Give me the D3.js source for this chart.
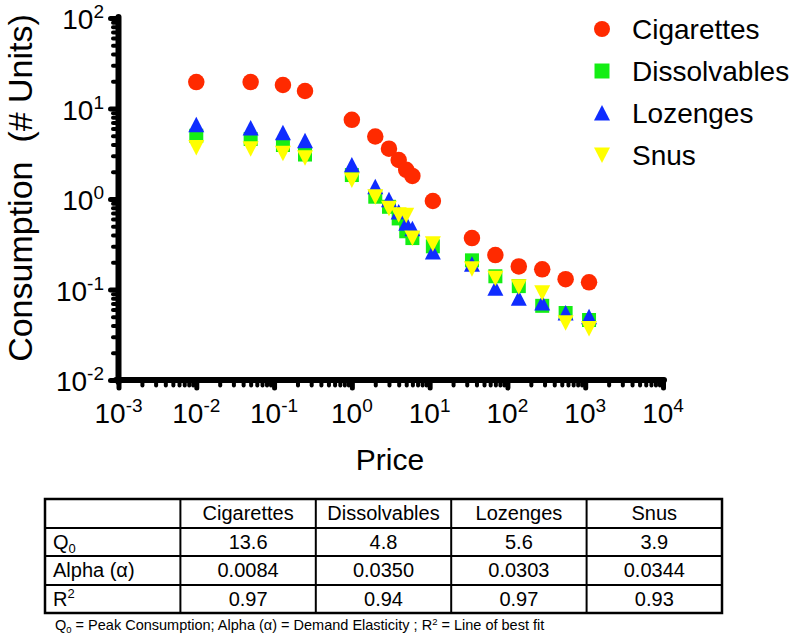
<!DOCTYPE html>
<html><head><meta charset="utf-8">
<script src="https://cdn.jsdelivr.net/npm/d3@7"></script>
<style>
html,body{margin:0;padding:0;background:#fff;}
svg{display:block;font-family:Arial,"Liberation Sans",Helvetica,sans-serif;}
</style></head>
<body>
<svg id="chart" width="800" height="636"></svg>
<script>
// ---- data ----
const prices = [0.01,0.05,0.13,0.25,1,2,3,4,5,6,11,35,70,140,280,560,1120];
const cigarettes   = [19.6,19.6,18.2,15.6,7.5,4.9,3.6,2.7,2.1,1.8,0.95,0.37,0.24,0.18,0.167,0.13,0.12];
const dissolvables = [5.0,4.6,3.95,3.1,1.84,1.06,0.82,0.61,0.44,0.37,0.30,0.21,0.14,0.109,0.066,0.055,0.046];
const lozenges     = [6.6,6.1,5.4,4.4,2.38,1.37,0.98,0.72,0.54,0.47,0.26,0.19,0.103,0.08,0.071,0.055,0.05];
const snus         = [3.7,3.6,3.2,2.85,1.62,1.06,0.79,0.67,0.66,0.37,0.32,0.17,0.133,0.107,0.092,0.043,0.037];
const seriesNames = ["Cigarettes","Dissolvables","Lozenges","Snus"];
const xTickExps = [-3,-2,-1,0,1,2,3,4];
const yTickExps = [-2,-1,0,1,2];
const tableHeader = ["","Cigarettes","Dissolvables","Lozenges","Snus"];
const q0Row    = ["13.6","4.8","5.6","3.9"];
const alphaRow = ["0.0084","0.0350","0.0303","0.0344"];
const r2Row    = ["0.97","0.94","0.97","0.93"];

// ---- setup ----
const svg = d3.select("#chart");
const colors = {Cigarettes:"#ff2a00",Dissolvables:"#14ee14",Lozenges:"#0f2cff",Snus:"#ffff00"};
const shapes = {Cigarettes:"circle",Dissolvables:"square",Lozenges:"up",Snus:"down"};
const values = {Cigarettes:cigarettes,Dissolvables:dissolvables,Lozenges:lozenges,Snus:snus};

const x = d3.scaleLog().domain([1e-3,1e4]).range([118.5,663]);
const y = d3.scaleLog().domain([1e-2,1e2]).range([380,18]);

function shapePath(type, s){
  const h = s/2;
  if(type==="circle") return d3.symbol(d3.symbolCircle, Math.PI*h*h)();
  if(type==="square") return `M${-h},${-h}H${h}V${h}H${-h}Z`;
  if(type==="up") return `M0,${-h-0.5}L${h+0.5},${h}L${-h-0.5},${h}Z`;
  return `M0,${h+0.5}L${h+0.5},${-h}L${-h-0.5},${-h}Z`;
}

// ---- axes ----
const axisG = svg.append("g");
const isMajor = v => Math.abs(Math.log10(v)-Math.round(Math.log10(v)))<1e-6;
const xMinor = x.ticks().filter(v=>!isMajor(v));
const yMinor = y.ticks().filter(v=>!isMajor(v));
const xMajor = xTickExps.map(e=>Math.pow(10,e));
const yMajor = yTickExps.map(e=>Math.pow(10,e));

function styleAxis(g, w){
  g.select(".domain").remove();
  g.selectAll(".tick line").attr("stroke","#000").attr("stroke-width",w).attr("stroke-linecap","round");
  g.selectAll(".tick text").remove();
}
axisG.append("g").attr("transform","translate(0,380)")
  .call(d3.axisBottom(x).tickValues(xMinor).tickSize(5.5).tickSizeOuter(0)).call(g=>styleAxis(g,4));
axisG.append("g").attr("transform","translate(0,380)")
  .call(d3.axisBottom(x).tickValues(xMajor).tickSize(8).tickSizeOuter(0)).call(g=>styleAxis(g,5));
axisG.append("g").attr("transform","translate(118.5,0)")
  .call(d3.axisLeft(y).tickValues(yMinor).tickSize(5.5).tickSizeOuter(0)).call(g=>styleAxis(g,4));
axisG.append("g").attr("transform","translate(118.5,0)")
  .call(d3.axisLeft(y).tickValues(yMajor).tickSize(8).tickSizeOuter(0)).call(g=>styleAxis(g,5));
// axis lines
axisG.append("line").attr("x1",118.5).attr("x2",118.5).attr("y1",y(100)-1).attr("y2",382)
  .attr("stroke","#000").attr("stroke-width",6).attr("stroke-linecap","round");
axisG.append("line").attr("x1",116).attr("x2",x(1e4)+1).attr("y1",380).attr("y2",380)
  .attr("stroke","#000").attr("stroke-width",6).attr("stroke-linecap","round");

// tick labels
const xl = svg.append("g").selectAll("text").data(xTickExps).join("text")
  .attr("x",e=>x(Math.pow(10,e))).attr("y",423).attr("text-anchor","middle")
  .attr("font-size",28).attr("fill","#000");
xl.append("tspan").text("10");
xl.append("tspan").attr("dy",-11).attr("font-size",19).text(e=>String(e));

const yl = svg.append("g").selectAll("text").data(yTickExps).join("text")
  .attr("x",104).attr("y",e=>y(Math.pow(10,e))+11).attr("text-anchor","end")
  .attr("font-size",28).attr("fill","#000");
yl.append("tspan").text("10");
yl.append("tspan").attr("dy",-11).attr("font-size",19).text(e=>String(e));

// axis titles
svg.append("text").attr("x",390).attr("y",470).attr("text-anchor","middle")
  .attr("font-size",30).text("Price");
svg.append("text").attr("transform","translate(32,188) rotate(-90)").attr("text-anchor","middle")
  .attr("font-size",34).attr("xml:space","preserve").text("Consumption  (# Units)");

// ---- points ----
const drawOrder = ["Cigarettes","Dissolvables","Lozenges","Snus"];
const pts = svg.append("g");
drawOrder.forEach(name=>{
  const size = shapes[name]==="circle"?16.5:(shapes[name]==="square"?14:15);
  pts.append("g").selectAll("path").data(prices.map((p,i)=>[p,values[name][i]])).join("path")
    .attr("transform",d=>`translate(${x(d[0])},${y(d[1])})`)
    .attr("d",shapePath(shapes[name],size))
    .attr("fill",colors[name]);
});

// ---- legend ----
const leg = svg.append("g");
seriesNames.forEach((name,i)=>{
  const cy = 29 + i*42;
  const size = shapes[name]==="circle"?16:15;
  leg.append("path").attr("transform",`translate(602,${cy})`).attr("d",shapePath(shapes[name],size)).attr("fill",colors[name]);
  leg.append("text").attr("x",632).attr("y",cy+10).attr("font-size",28).text(name);
});

// ---- table ----
const tL = 45, tR = 722, rows = [499,528,556,585,613];
const colW = (tR-tL)/5;
const tb = svg.append("g");
tb.append("rect").attr("x",tL).attr("y",rows[0]).attr("width",tR-tL).attr("height",rows[4]-rows[0])
  .attr("fill","none").attr("stroke","#000").attr("stroke-width",2.5);
rows.slice(1,4).forEach(r=>tb.append("line").attr("x1",tL).attr("x2",tR).attr("y1",r).attr("y2",r).attr("stroke","#000").attr("stroke-width",2));
[1,2,3,4].forEach(c=>tb.append("line").attr("x1",tL+c*colW).attr("x2",tL+c*colW).attr("y1",rows[0]).attr("y2",rows[4]).attr("stroke","#000").attr("stroke-width",2));
const fs = 20;
tableHeader.forEach((h,c)=>{ if(h) tb.append("text").attr("x",tL+c*colW+colW/2).attr("y",rows[0]+21).attr("text-anchor","middle").attr("font-size",fs).text(h); });
// row labels
const q0t = tb.append("text").attr("x",tL+8).attr("y",rows[1]+21).attr("font-size",fs);
q0t.append("tspan").text("Q");
q0t.append("tspan").attr("dy",4).attr("font-size",13).text("0");
tb.append("text").attr("x",tL+8).attr("y",rows[2]+21).attr("font-size",fs).text("Alpha (\u03b1)");
const r2t = tb.append("text").attr("x",tL+8).attr("y",rows[3]+21).attr("font-size",fs);
r2t.append("tspan").text("R");
r2t.append("tspan").attr("dy",-8).attr("font-size",13).text("2");
[q0Row,alphaRow,r2Row].forEach((row,ri)=>{
  row.forEach((v,c)=>tb.append("text").attr("x",tL+(c+1)*colW+colW/2).attr("y",rows[ri+1]+21)
    .attr("text-anchor","middle").attr("font-size",fs).text(v));
});
// footnote
const fn = svg.append("text").attr("x",55).attr("y",630).attr("font-size",14.5);
fn.append("tspan").text("Q");
fn.append("tspan").attr("dy",3).attr("font-size",9.5).text("0");
fn.append("tspan").attr("dy",-3).text(" = Peak Consumption; Alpha (\u03b1) = Demand Elasticity ; R");
fn.append("tspan").attr("dy",-5).attr("font-size",9.5).text("2");
fn.append("tspan").attr("dy",5).text(" = Line of best fit");
</script>
</body></html>
